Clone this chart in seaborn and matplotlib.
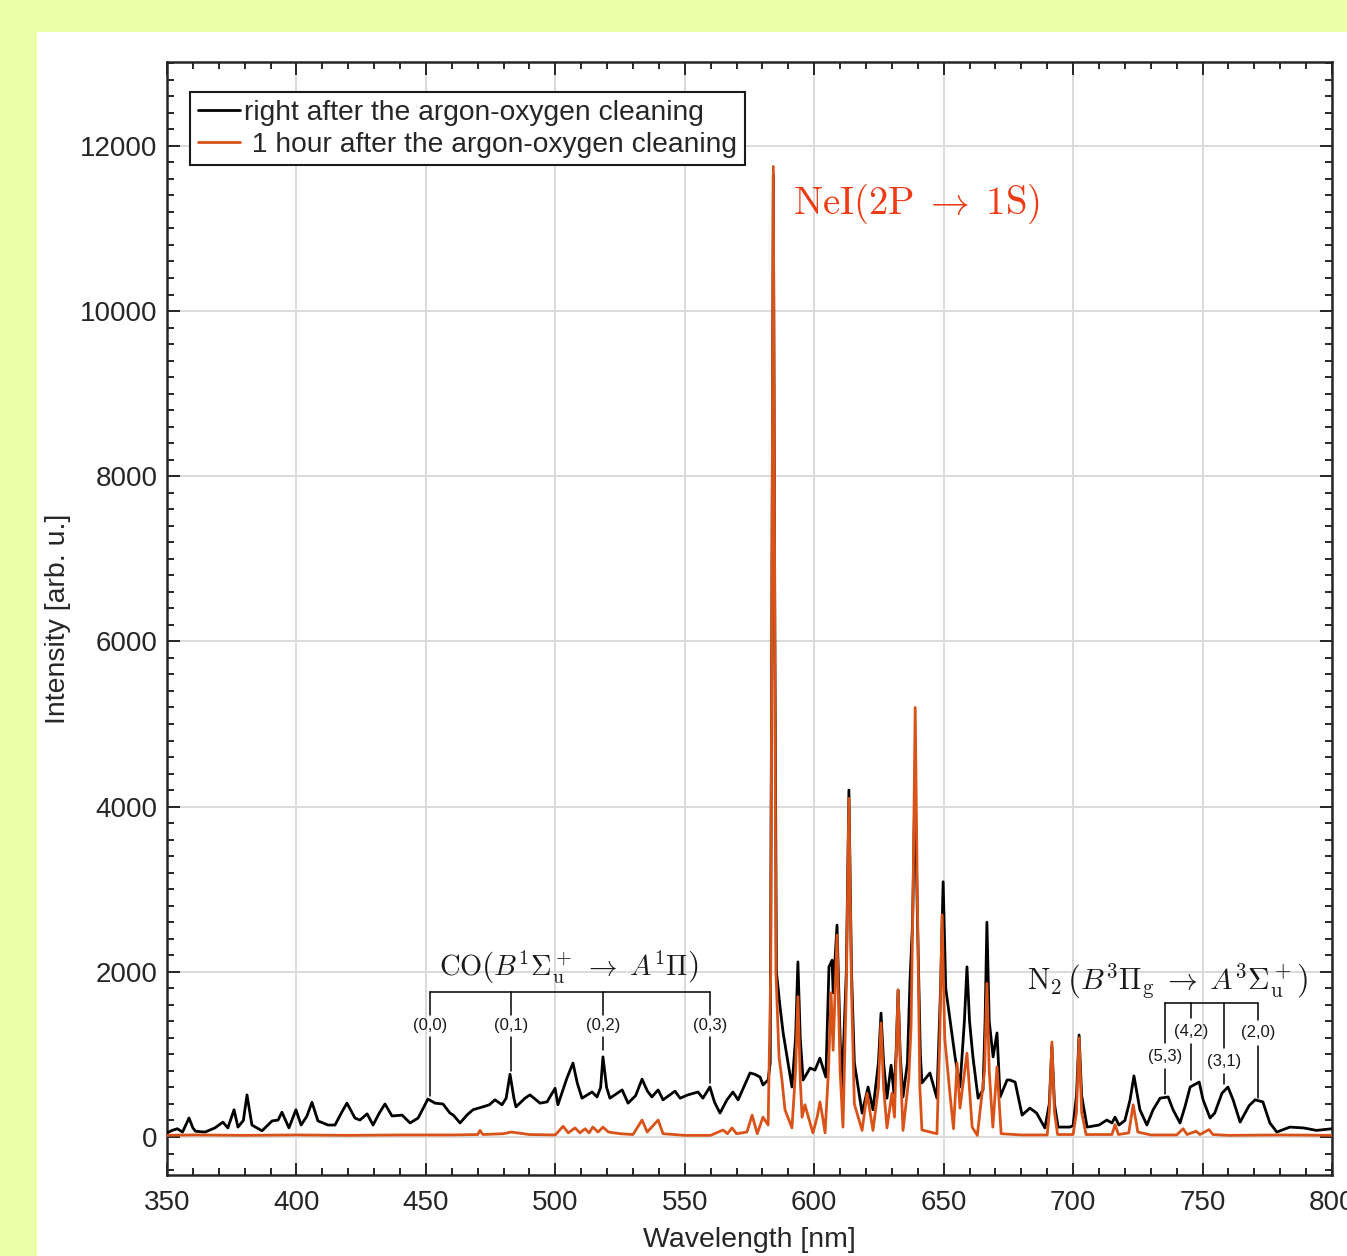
import numpy as np
import pandas as pd
import matplotlib
matplotlib.use("Agg")
import matplotlib.pyplot as plt
import seaborn as sns
from matplotlib.ticker import MultipleLocator
from matplotlib.patches import Rectangle

# ---------------- data ----------------
wl_before = [350.0, 352.0, 354.0, 356.0, 358.5, 360.0, 361.0, 364.7, 368.5, 371.6, 373.5, 375.9, 377.4,
             379.5, 380.9, 382.8, 386.7, 390.6, 392.9, 394.4, 397.1, 399.8, 401.8, 404.0, 406.0, 408.3,
             412.2, 414.9, 417.5, 419.5, 422.6, 424.5, 427.3, 429.6, 432.0, 434.2, 436.9, 440.8, 443.9,
             447.0, 449.5, 450.8, 453.5, 456.6, 459.3, 460.6, 463.2, 466.0, 468.2, 472.0, 474.5, 476.7,
             479.4, 481.0, 482.5, 484.0, 484.8, 488.3, 490.2, 494.1, 496.8, 499.9, 501.0, 504.5, 506.8,
             508.5, 510.3, 514.2, 516.1, 517.5, 518.4, 519.8, 521.1, 525.8, 528.1, 531.0, 533.5, 535.5,
             537.3, 539.7, 541.6, 546.2, 548.2, 551.2, 555.1, 557.0, 559.7, 561.5, 563.6, 566.3, 568.6,
             570.6, 573.0, 575.2, 577.0, 579.1, 580.2, 582.2, 583.0, 583.6, 584.2, 584.8, 585.4, 586.8,
             588.0, 589.5, 591.4, 592.8, 593.7, 594.6, 595.7, 598.4, 600.3, 602.2, 604.5, 605.7, 606.9,
             607.3, 608.8, 610.0, 610.7, 612.4, 613.4, 614.4, 615.5, 618.5, 620.8, 622.7, 624.8, 625.8,
             626.8, 628.1, 629.7, 630.8, 631.6, 632.4, 633.2, 634.3, 636.0, 637.0, 638.0, 638.9, 639.9,
             641.0, 641.6, 644.7, 647.4, 648.8, 649.8, 650.8, 652.1, 654.4, 656.3, 658.0, 659.0, 660.0,
             661.3, 663.3, 665.2, 666.0, 666.7, 667.6, 669.1, 670.6, 671.8, 674.5, 675.6, 677.6, 680.3,
             683.3, 685.9, 689.1, 690.8, 691.8, 692.8, 694.2, 698.8, 700.0, 701.3, 702.3, 703.3, 705.4,
             710.0, 713.0, 715.0, 716.2, 717.7, 720.0, 722.0, 723.5, 725.8, 728.5, 730.9, 733.6, 736.7,
             738.6, 741.3, 743.2, 745.2, 748.7, 750.2, 752.9, 754.7, 757.5, 759.8, 761.8, 764.5, 766.4,
             768.0, 770.3, 773.3, 776.0, 778.7, 783.7, 789.0, 794.0, 800.0]
int_before = [50, 80, 100, 60, 230, 110, 70, 60, 110, 180, 110, 330, 120,
              200, 510, 145, 75, 195, 205, 300, 110, 330, 145, 250, 420, 195,
              145, 145, 300, 410, 230, 205, 280, 145, 290, 400, 255, 265, 170,
              230, 380, 460, 410, 400, 290, 265, 170, 270, 330, 365, 390, 450,
              390, 470, 760, 470, 365, 470, 510, 410, 425, 590, 390, 715, 895,
              650, 470, 545, 485, 600, 970, 600, 470, 570, 410, 500, 700, 560,
              485, 570, 450, 555, 470, 510, 545, 470, 605, 420, 290, 450, 545,
              450, 620, 775, 760, 725, 630, 690, 900, 6000, 11650, 6000, 2000, 1575,
              1260, 970, 605, 1200, 2120, 1200, 690, 835, 810, 955, 725, 2060, 2140,
              1745, 2565, 1200, 570, 2000, 4200, 2000, 900, 290, 605, 330, 900, 1500,
              900, 470, 870, 530, 1000, 1780, 1000, 485, 900, 1900, 2600, 4300, 2600,
              1000, 655, 775, 470, 1800, 3090, 1800, 1500, 970, 605, 1400, 2060, 1400,
              970, 470, 570, 1400, 2600, 1400, 970, 1260, 485, 690, 690, 665, 265,
              350, 290, 110, 400, 1100, 400, 120, 120, 140, 500, 1235, 500, 120,
              145, 205, 170, 240, 145, 200, 450, 740, 330, 145, 330, 470, 485,
              330, 170, 365, 605, 665, 450, 230, 290, 530, 605, 450, 180, 290,
              380, 450, 425, 170, 60, 120, 110, 80, 100]

wl_after = [350, 360, 380, 400, 420, 440, 460, 470.0, 470.9, 472.0, 480, 483, 490, 500, 503.0, 505.0,
            507.6, 509.5, 511.5, 513.0, 514.5, 516.5, 518.4, 520.5, 525, 530, 533.5, 535.5, 539.7,
            541.6, 550, 560, 564.8, 566.5, 568.2, 570.0, 574.0, 576.0, 578.0, 580.2, 582.2, 583.2,
            584.2, 585.2, 586.4, 587.5, 588.7, 591.4, 592.8, 593.7, 594.6, 595.3, 596.4, 599.5, 601.2,
            602.2, 603.2, 604.2, 605.5, 606.5, 607.3, 608.8, 610.0, 611.1, 612.4, 613.4, 614.4, 615.5,
            618.5, 620.4, 622.7, 624.8, 625.8, 626.8, 628.1, 630.0, 631.0, 631.6, 632.4, 633.2, 634.3,
            636.5, 637.4, 638.2, 639.0, 639.8, 640.8, 641.6, 647.4, 648.5, 649.4, 650.4, 652.4, 653.8,
            655.2, 656.3, 659.0, 661.0, 663.0, 665.8, 666.7, 667.6, 669.0, 670.6, 672.2, 680, 690.0,
            690.8, 691.8, 692.8, 694.0, 700.0, 701.3, 702.3, 703.3, 705.0, 715.0, 716.2, 717.5, 721.5,
            723.2, 725.0, 730, 740, 742.5, 744.0, 747.5, 749.0, 752.5, 754.0, 760, 780, 800]
int_after = [20, 25, 20, 25, 20, 25, 25, 30, 80, 30, 40, 60, 30, 25, 130, 50,
             110, 50, 100, 50, 120, 60, 120, 60, 40, 30, 205, 60, 205,
             40, 20, 20, 85, 40, 110, 40, 60, 265, 40, 240, 145, 2000,
             11750, 2000, 970, 700, 330, 110, 800, 1700, 700, 240, 390, 50, 250,
             425, 250, 50, 800, 1745, 1050, 2445, 800, 120, 1800, 4100, 1800, 400,
             80, 530, 80, 600, 1380, 600, 110, 530, 240, 900, 1780, 900, 80,
             700, 1330, 3000, 5200, 3000, 600, 85, 40, 1200, 2690, 1200, 530, 100,
             895, 350, 1015, 120, 20, 800, 1860, 800, 120, 850, 40, 25, 25,
             300, 1150, 300, 30, 30, 300, 1200, 300, 30, 30, 150, 30, 50,
             390, 60, 25, 25, 100, 30, 70, 30, 90, 30, 20, 25, 20]

series_labels = ["right after the argon-oxygen cleaning", " 1 hour after the argon-oxygen cleaning"]

co_bands = ["(0,0)", "(0,1)", "(0,2)", "(0,3)"]
co_band_wl = [451.6, 482.9, 518.4, 559.7]
co_band_bottom = [500, 800, 1050, 650]

n2_bands = ["(5,3)", "(4,2)", "(3,1)", "(2,0)"]
n2_band_wl = [735.5, 745.7, 758.3, 771.4]
n2_label_y = [980, 1283, 920, 1260]
n2_band_bottom = [520, 690, 640, 470]

# ---------------- style ----------------
sns.set_theme(style="white")
plt.rcParams['font.family'] = ['Liberation Sans', 'DejaVu Sans']
plt.rcParams['mathtext.fontset'] = 'cm'

fig = plt.figure(figsize=(13.47, 12.56), dpi=100)
fig.patch.set_facecolor('#EBFFA8')
fig.add_artist(Rectangle((37 / 1347, 0), 1 - 37 / 1347, 1 - 32 / 1256, transform=fig.transFigure,
                         facecolor='white', edgecolor='none', zorder=0))
ax = fig.add_axes([167 / 1347, 1 - 1175 / 1256, (1332 - 167) / 1347, (1175 - 62) / 1256])
ax.set_facecolor('white')

df_b = pd.DataFrame({"wl": wl_before, "I": int_before})
df_a = pd.DataFrame({"wl": wl_after, "I": int_after})
sns.lineplot(data=df_b, x="wl", y="I", ax=ax, color='black', linewidth=2.0,
             estimator=None, sort=False, label=series_labels[0], zorder=3)
sns.lineplot(data=df_a, x="wl", y="I", ax=ax, color='#D95319', linewidth=2.0,
             estimator=None, sort=False, label=series_labels[1], zorder=4)

ax.set_xlim(350, 800)
ax.set_ylim(-460, 13015)
ax.xaxis.set_major_locator(MultipleLocator(50))
ax.xaxis.set_minor_locator(MultipleLocator(10))
ax.yaxis.set_major_locator(MultipleLocator(2000))
ax.yaxis.set_minor_locator(MultipleLocator(200))
ax.grid(True, which='major', color='#DADADA', linewidth=1.4, zorder=0)
ax.set_axisbelow(True)
tc = '#262626'
ax.tick_params(which='both', direction='in', top=True, right=True, bottom=True, left=True,
               color=tc, width=1.4, labelcolor=tc, labelsize=20)
ax.tick_params(which='major', length=9)
ax.tick_params(which='minor', length=5)
ax.tick_params(axis='x', pad=11)
ax.tick_params(axis='y', pad=7)
for s in ax.spines.values():
    s.set_color(tc)
    s.set_linewidth(1.8)
    s.set_visible(True)

ax.set_xlabel("Wavelength [nm]", fontsize=20.5, color=tc, labelpad=8)
ax.set_ylabel("Intensity [arb. u.]", fontsize=20.5, color=tc, labelpad=6)

leg = ax.legend(loc='upper left', bbox_to_anchor=(0.0197, 0.973), borderaxespad=0,
                fontsize=20.3, frameon=True, fancybox=False, edgecolor='#1a1a1a',
                handlelength=1.5, handletextpad=0.15, labelspacing=0.2, borderpad=0.28)
leg.get_frame().set_linewidth(1.5)
leg.get_frame().set_alpha(1)

# NeI annotation
ax.text(591.8, 11300, r'$\mathrm{NeI(2P}\;\rightarrow\;\mathrm{1S)}$', color='#EE3B16', fontsize=28,
        ha='left', va='center', zorder=6)

# CO bracket
lk = dict(color='black', linewidth=1.1, zorder=5)
ax.plot([co_band_wl[0], co_band_wl[-1]], [1755, 1755], **lk)
for w, lab, yb in zip(co_band_wl, co_bands, co_band_bottom):
    ax.plot([w, w], [1755, 1480], **lk)
    ax.plot([w, w], [1210, yb], **lk)
    ax.text(w, 1344, lab, ha='center', va='center', fontsize=12, color='#1a1a1a', zorder=6)
ax.text(505.3, 2045, r'$\mathrm{CO}\left(B^1\Sigma_\mathrm{u}^+\;\rightarrow\;A^1\Pi\right)$',
        ha='center', va='center', fontsize=20.5, color='#1a1a1a', zorder=6)

# N2 bracket
ax.plot([n2_band_wl[0], n2_band_wl[-1]], [1622, 1622], **lk)
for w, lab, yl, yb in zip(n2_band_wl, n2_bands, n2_label_y, n2_band_bottom):
    ax.plot([w, w], [1622, yl + 160], **lk)
    ax.plot([w, w], [yl - 160, yb], **lk)
    ax.text(w, yl, lab, ha='center', va='center', fontsize=12, color='#1a1a1a', zorder=6)
ax.text(736.3, 1875, r'$\mathrm{N}_2\,\left(B^3\Pi_\mathrm{g}\;\rightarrow\;A^3\Sigma_\mathrm{u}^+\right)$',
        ha='center', va='center', fontsize=21.5, color='#1a1a1a', zorder=6)

fig.savefig("out.png", dpi=100, facecolor=fig.get_facecolor())
